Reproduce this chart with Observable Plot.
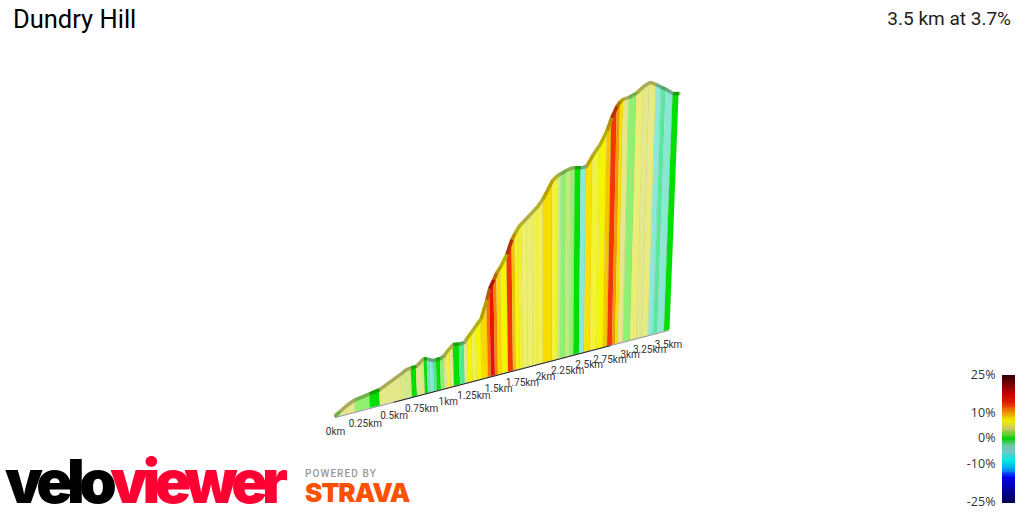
<!DOCTYPE html>
<html>
<head>
<meta charset="utf-8">
<script src="https://cdn.jsdelivr.net/npm/d3@7"></script>
<script src="https://cdn.jsdelivr.net/npm/@observablehq/plot@0.6"></script>
<style>
html,body{margin:0;padding:0;background:#fff;width:1024px;height:512px;overflow:hidden}
#stage{position:relative;width:1024px;height:512px;font-family:Roboto,sans-serif}
#stage svg{position:absolute;left:0;top:0;background:transparent}
.t{position:absolute;white-space:nowrap;line-height:1}
</style>
</head>
<body>
<div id="stage">
  <div class="t" style="left:13px;top:7px;font-size:25.5px;color:#000">Dundry Hill</div>
  <div class="t" style="right:13px;top:9px;font-size:19px;color:#222">3.5 km at 3.7%</div>
  <div class="t" style="left:5px;top:451px;font-family:Inter,sans-serif;font-weight:900;font-size:60px;letter-spacing:-5.6px;color:#000">velo<span style="color:#ff0033">viewer</span></div>
  <div class="t" style="left:305px;top:469px;font-family:Roboto,sans-serif;font-weight:500;font-size:10px;letter-spacing:1.1px;color:#999">POWERED BY</div>
  <div class="t" style="left:305px;top:480px;font-family:Inter,sans-serif;font-weight:900;font-size:26px;letter-spacing:-0.9px;color:#fc5200">STRAVA</div>
</div>
<script>
const edgeKm = [0,0.041,0.099,0.166,0.294,0.38,0.575,0.62,0.666,0.712,0.785,0.813,0.841,0.869,0.897,0.935,0.973,0.993,1.03,1.06,1.118,1.166,1.196,1.246,1.286,1.336,1.396,1.426,1.468,1.498,1.54,1.603,1.655,1.687,1.73,1.762,1.816,1.87,1.923,1.979,2.079,2.135,2.168,2.224,2.28,2.32,2.385,2.445,2.516,2.598,2.67,2.72,2.78,2.817,2.854,2.916,3.005,3.091,3.159,3.237,3.301,3.355,3.445,3.52];
const edgeEle = [0.8,2,3.8,5.3,6.3,7.1,11.7,12.9,13.3,13.4,16.1,15.5,14.9,14.2,14.3,14.4,15.2,16.5,18.1,19.4,19,19.1,20.9,23.6,25.9,28.5,37,41.9,45.8,48.8,51.6,56.9,63.6,66.3,69.5,70.9,73.2,75.6,77.9,81.4,89.9,92.1,92.8,94.1,95,95,94.6,95,100.5,105.8,112.5,119,124.9,127.2,128.3,129.1,131.2,134.7,136.4,135,133.4,132.3,129.7,129.6];
const stripGrade = [1.5,3.5,3.5,1.5,0,3.5,3.2,3,0,3.3,0,-3.5,-5.5,-2,0,1.5,3.5,6,3.5,0,-2,3.5,7,5.5,7,8.5,11,13.5,10.5,8.5,7,12.5,9,6.5,6,5,5,5.5,5.5,8.3,6,3,1.5,2.5,1.5,0,-5,8,6,7,9,12.5,10,8,3.5,1.5,4.5,3.5,4,-5,-2.5,-4.8,0];
const tickKm = [0,0.25,0.5,0.75,1,1.25,1.5,1.75,2,2.25,2.5,2.75,3,3.25,3.5];
const tickLabels = ["0km","0.25km","0.5km","0.75km","1km","1.25km","1.5km","1.75km","2km","2.25km","2.5km","2.75km","3km","3.25km","3.5km"];
const darkBaseKm = [0.5,0.75,1,1.25,1.5,1.75,2,2.25,2.5,2.75];
const gradeStops = [-25,-15,-8,-5,-2,0,1.5,3.5,5,7,8.5,10,12,14,18,25];
const stripColors = ["#000050","#0000ff","#40f0f0","#8ce8d8","#50e890","#00e000","#90f070","#e5e88a","#eef06a","#f5f500","#f8d800","#f89800","#f84800","#e80000","#900000","#300000"];
const legendStops = [-25,-20,-15,-12,-8.5,-5,-2.5,0,1,4,7,10.4,14,18,25];
const legendColors = ["#000050","#0000a0","#0000f0","#00a0f0","#00e8e8","#70c8c8","#70c8a0","#00d000","#40d020","#c8c860","#f0f000","#f09000","#e02000","#c00000","#300000"];
const legendTicks = [25,10,0,-10,-25];

// perspective of the ribbon: distance recedes, elevation shrinks with depth, verticals converge
const depth = d => 1 + 0.08 * d;
const U = d => d / depth(d);
const rise = 13.6;
const leanPivot = 1.765, lean = 0.00075;
const baseV = d => rise * U(d);
const topU = (d, e) => U(d) + lean * (U(d) - leanPivot) * e / depth(d);
const topV = (d, e) => baseV(d) + e / depth(d);

const strips = stripGrade.flatMap((grade, i) => [i, i + 1].map(k => ({
  strip: i, grade,
  bx: U(edgeKm[k]), by: baseV(edgeKm[k]),
  tx: topU(edgeKm[k], edgeEle[k]), ty: topV(edgeKm[k], edgeEle[k])
})));
const ridge = edgeKm.map((d, i) => ({tx: topU(d, edgeEle[i]), ty: topV(d, edgeEle[i])}));

const uMax = U(3.5);
const main = Plot.plot({
  width: 1024, height: 512, margin: 0,
  style: {background: "transparent"},
  x: {axis: null, domain: [0, uMax], range: [335, 668]},
  y: {axis: null, domain: [0, 140], range: [417, 417 - 2.34 * 140]},
  color: {type: "linear", domain: gradeStops, range: stripColors},
  marks: [
    Plot.area(strips, {x1: "bx", y1: "by", x2: "tx", y2: "ty", z: "strip", fill: "grade", stroke: "#777", strokeOpacity: 0.14, strokeWidth: 0.6}),
    Plot.line(strips, {x: "tx", y: "ty", z: "strip", stroke: "grade", strokeWidth: 3.5, strokeLinecap: "butt"}),
    Plot.line(ridge, {x: "tx", y: "ty", stroke: "#3a3000", strokeOpacity: 0.34, strokeWidth: 3.5, strokeLinejoin: "round"}),
    Plot.line(tickKm, {x: d => U(d), y: d => baseV(d), stroke: "#666", strokeWidth: 1, strokeOpacity: 0.7}),
    Plot.line(darkBaseKm, {x: d => U(d), y: d => baseV(d), stroke: "#000", strokeWidth: 1, strokeOpacity: 0.75}),
    Plot.text(tickKm, {x: d => U(d), y: d => baseV(d), text: (d, i) => tickLabels[i], dy: 14, dx: 0, fontSize: 10, fontFamily: "Roboto, sans-serif", fill: "#333"})
  ]
});
document.getElementById("stage").append(main);

const legendSteps = d3.range(-25, 25, 0.5);
const legend = Plot.plot({
  width: 1024, height: 512, margin: 0,
  style: {background: "transparent"},
  x: {axis: null, domain: [0, 1], range: [1002, 1015]},
  y: {axis: null, domain: [-25, 25], range: [502.5, 375]},
  color: {type: "linear", domain: legendStops, range: legendColors},
  marks: [
    Plot.rect(legendSteps, {x1: 0, x2: 1, y1: d => d, y2: d => d + 0.5, fill: d => d + 0.25, shapeRendering: "crispEdges"}),
    Plot.text(legendTicks, {x: 0, y: d => d, text: d => d + "%", textAnchor: "end", dx: -7, dy: -1, fontSize: 12.5, fontFamily: "'Open Sans', sans-serif", fill: "#333"})
  ]
});
document.getElementById("stage").append(legend);
</script>
</body>
</html>
